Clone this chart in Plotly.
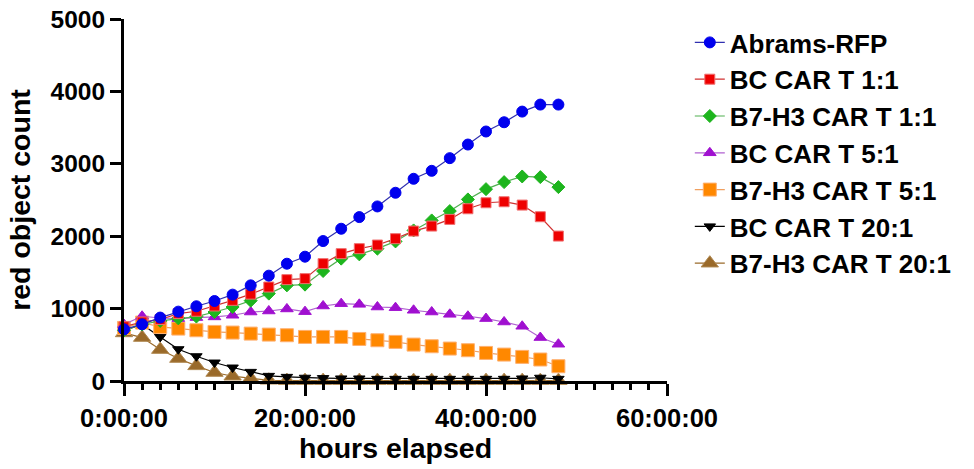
import plotly.graph_objects as go

hours = [0, 2, 4, 6, 8, 10, 12, 14, 16, 18, 20, 22, 24, 26, 28, 30, 32, 34, 36, 38, 40, 42, 44, 46, 48]

abrams_rfp = [714, 783, 876, 958, 1032, 1105, 1193, 1321, 1455, 1620, 1717, 1933, 2103, 2264, 2411, 2600,
              2793, 2903, 3078, 3266, 3446, 3574, 3721, 3818, 3818]
bc_1_1 = [750, 815, 850, 931, 963, 1036, 1114, 1200, 1298, 1400, 1414, 1621, 1759, 1828, 1878, 1966,
          2071, 2140, 2232, 2379, 2462, 2476, 2430, 2269, 2002]
b7h3_1_1 = [700, 780, 830, 865, 890, 953, 1022, 1110, 1207, 1321, 1331, 1519, 1690, 1749, 1828, 1928,
            2080, 2218, 2347, 2508, 2650, 2747, 2825, 2816, 2678]
bc_5_1 = [780, 894, 870, 862, 876, 885, 908, 953, 967, 995, 958, 1036, 1068, 1059, 1022, 1013,
          977, 953, 921, 894, 862, 815, 756, 600, 508]
b7h3_5_1 = [733, 807, 747, 724, 701, 678, 669, 655, 641, 632, 609, 609, 609, 581, 563, 540,
            503, 480, 448, 425, 388, 365, 333, 297, 204]
bc_20_1 = [700, 780, 609, 439, 342, 255, 186, 126, 71, 57, 45, 40, 35, 35, 30, 30,
           30, 30, 30, 30, 30, 30, 35, 45, 30]
b7h3_20_1 = [664, 600, 434, 310, 209, 117, 66, 34, 10, 5, 5, 5, 5, 5, 5, 5,
             5, 5, 5, 5, 5, 5, 5, 5, 5]

x_tickvals = [0, 20, 40, 60]
x_ticktext = ["0:00:00", "20:00:00", "40:00:00", "60:00:00"]
y_tickvals = [0, 1000, 2000, 3000, 4000, 5000]

series = [
    ("Abrams-RFP", abrams_rfp, "circle", 11, "#0000EE", "#3030B0", "#0000EE"),
    ("BC CAR T 1:1", bc_1_1, "square", 10, "#EE0000", "#D03030", "#F07070"),
    ("B7-H3 CAR T 1:1", b7h3_1_1, "diamond", 10, "#1DB51D", "#50B050", "#1DB51D"),
    ("BC CAR T 5:1", bc_5_1, "triangle-up", 11, "#A010D0", "#B060D0", "#A010D0"),
    ("B7-H3 CAR T 5:1", b7h3_5_1, "square", 13, "#FF8800", "#F0A060", "#FFB070"),
    ("BC CAR T 20:1", bc_20_1, "triangle-down", 10, "#000000", "#000000", "#000000"),
    ("B7-H3 CAR T 20:1", b7h3_20_1, "triangle-up", 15, "#9A6A2A", "#9A6A2A", "#B08850"),
]

FONT = "Arial, Liberation Sans, sans-serif"

fig = go.Figure()
for rank, (name, vals, sym, size, col, lcol, ecol) in reversed(list(enumerate(series))):
    fig.add_trace(go.Scatter(
        x=hours, y=vals, name=name, mode="lines+markers",
        line=dict(color=lcol, width=1.2),
        marker=dict(symbol=sym, size=size, color=col, line=dict(color=ecol, width=1)),
        cliponaxis=False, legendrank=rank + 1,
    ))

fig.update_layout(
    width=974, height=469,
    margin=dict(l=124, r=307, t=19, b=88, autoexpand=False),
    plot_bgcolor="white", paper_bgcolor="white",
    font=dict(family=FONT, color="black", weight="bold"),
    showlegend=True,
    legend=dict(
        x=1.042, y=1.0, xanchor="left", yanchor="top",
        font=dict(family=FONT, size=26, color="black", weight="bold"),
        bgcolor="rgba(0,0,0,0)",
    ),
    xaxis=dict(
        range=[0, 60], tickvals=x_tickvals, ticktext=x_ticktext, automargin=False,
        showline=True, linewidth=3, linecolor="black", showgrid=False, zeroline=False,
        ticks="outside", ticklen=12, tickwidth=3, tickcolor="black",
        minor=dict(dtick=2, tick0=0, ticks="outside", ticklen=6, tickwidth=2.5, tickcolor="black"),
        tickfont=dict(family=FONT, size=25.5, color="black", weight="bold"),
        title=dict(text="hours elapsed", font=dict(family=FONT, size=28.5, color="black", weight="bold"), standoff=8),
    ),
    yaxis=dict(
        range=[0, 5000], tickvals=y_tickvals, automargin=False,
        showline=True, linewidth=3, linecolor="black", showgrid=False, zeroline=False,
        ticks="outside", ticklen=11, tickwidth=3, tickcolor="black",
        tickfont=dict(family=FONT, size=24.5, color="black", weight="bold"),
        title=dict(text="red object count", font=dict(family=FONT, size=28.5, color="black", weight="bold"), standoff=12),
    ),
)

fig.write_html("out.html")
